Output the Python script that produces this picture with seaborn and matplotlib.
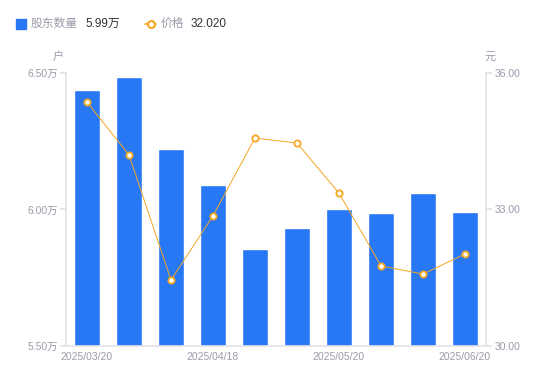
import numpy as np
import pandas as pd
import matplotlib
matplotlib.use('Agg')
import matplotlib.pyplot as plt
import seaborn as sns
from matplotlib.patches import Rectangle
from matplotlib.lines import Line2D

dates = ['2025/03/20', '2025/03/31', '2025/04/10', '2025/04/18', '2025/04/30',
         '2025/05/09', '2025/05/20', '2025/05/30', '2025/06/10', '2025/06/20']
holders = [6.438, 6.485, 6.222, 6.088, 5.855, 5.932, 6.003, 5.988, 6.062, 5.99]  # 万户
price = [35.36, 34.20, 31.45, 32.86, 34.57, 34.46, 33.36, 31.76, 31.58, 32.02]
tick_show = ['2025/03/20', '2025/04/18', '2025/05/20', '2025/06/20']

sns.set_theme(style='white')
plt.rcParams['font.family'] = ['Liberation Sans', 'Noto Sans CJK SC', 'DejaVu Sans']

blue = '#2878f5'
orange = '#f5a623'
gray = '#9b9bab'
axcol = '#e3e3e8'

df = pd.DataFrame({'date': dates, 'holders': holders, 'price': price})

fig = plt.figure(figsize=(5.5, 3.81), dpi=100)
ax = fig.add_axes([0.12, 0.092, 0.7636, 0.7164])

sns.barplot(data=df, x='date', y='holders', color=blue, width=0.6, saturation=1, ax=ax)
ax.set_ylim(5.5, 6.5)
ax.set_xlim(-0.5, 9.5)
ax.set_yticks([5.5, 6.0, 6.5])
ax.set_yticklabels(['5.50万', '6.00万', '6.50万'])
ax.set_xticks([dates.index(d) for d in tick_show])
ax.set_xticklabels(tick_show)
ax.set_xlabel('')
ax.set_ylabel('')

ax2 = ax.twinx()
sns.lineplot(x=np.arange(len(price)), y=price, color=orange, linewidth=0.7,
             marker='o', markersize=4.5, markerfacecolor='white',
             markeredgecolor=orange, markeredgewidth=1.3, ax=ax2)
ax2.set_ylim(30, 36)
ax2.set_yticks([30, 33, 36])
ax2.set_yticklabels(['30.00', '33.00', '36.00'])
ax2.set_ylabel('')

for a in (ax, ax2):
    for s in a.spines.values():
        s.set_visible(False)
    a.tick_params(colors=gray, labelsize=7.5, length=0, pad=3)
    a.grid(False)
ax.spines['left'].set_visible(True)
ax.spines['left'].set_color(axcol)
ax.spines['bottom'].set_visible(True)
ax.spines['bottom'].set_color(axcol)
ax2.spines['right'].set_visible(True)
ax2.spines['right'].set_color(axcol)
ax.tick_params(axis='y', length=4, color=axcol, pad=2)
ax2.tick_params(axis='y', length=4, color=axcol, pad=2)
ax.tick_params(axis='x', pad=4)

# unit labels
fig.text(58 / 550, 1 - 57 / 381, '户', color=gray, fontsize=8, ha='center', va='center')
fig.text(490 / 550, 1 - 57 / 381, '元', color=gray, fontsize=8, ha='center', va='center')

# custom legend
ly = 1 - 24 / 381
fig.patches.append(Rectangle((16 / 550, 1 - 29 / 381), 10 / 550, 10 / 381,
                             transform=fig.transFigure, color=blue, figure=fig))
fig.text(31 / 550, ly, '股东数量', color=gray, fontsize=8.5, va='center')
fig.text(85 / 550, ly, '5.99万', color='#333333', fontsize=8.5, va='center')
fig.lines.append(Line2D([145 / 550, 156 / 550], [ly, ly], transform=fig.transFigure,
                        color=orange, linewidth=1.2, figure=fig))
fig.lines.append(Line2D([150.5 / 550], [ly], transform=fig.transFigure,
                        color=orange, marker='o', markersize=5, markerfacecolor='white',
                        markeredgewidth=1.5, figure=fig))
fig.text(161 / 550, ly, '价格', color=gray, fontsize=8.5, va='center')
fig.text(191 / 550, ly, '32.020', color='#333333', fontsize=8.5, va='center')

fig.savefig('out.png', dpi=100)
